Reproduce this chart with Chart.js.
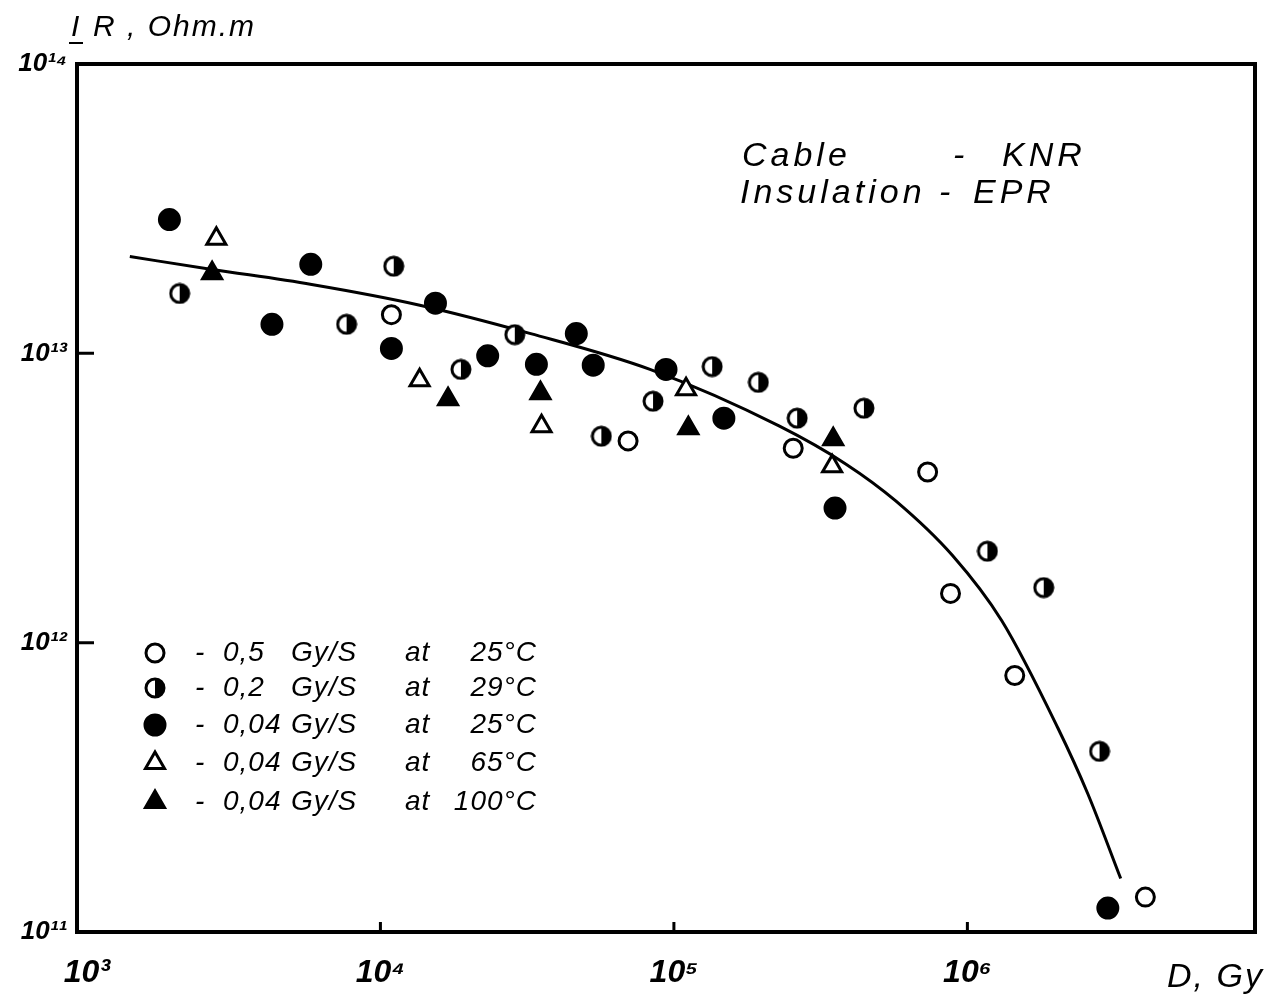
<!DOCTYPE html>
<html>
<head>
<meta charset="utf-8">
<script src="https://cdn.jsdelivr.net/npm/chart.js@4.4.1/dist/chart.umd.min.js"></script>
<style>
  html, body { margin: 0; padding: 0; background: #fff; }
  #wrap { width: 1269px; height: 1006px; }
</style>
</head>
<body>
<div id="wrap"><canvas id="irChart" width="1269" height="1006"></canvas></div>
<script>
// Dose D (Gy) and insulation resistance IR (Ohm.m)

// 0,5 Gy/S at 25°C  (open circle)
const openCircleDose = [1.09e4, 6.98e4, 2.55e5, 7.32e5, 8.76e5, 1.45e6, 4.04e6];
const openCircleIR   = [1.36e13, 4.98e12, 4.7e12, 3.89e12, 1.48e12, 7.7e11, 1.32e11];

// 0,2 Gy/S at 29°C  (half filled circle)
const halfCircleDose = [2.07e3, 1.11e4, 7.67e3, 1.88e4, 2.87e4, 1.35e5, 1.94e5, 8.49e4, 5.66e4, 2.63e5, 4.44e5, 1.17e6, 1.82e6, 2.82e6];
const halfCircleIR   = [1.61e13, 2.0e13, 1.26e13, 8.8e12, 1.16e13, 9.0e12, 7.94e12, 6.83e12, 5.17e12, 5.97e12, 6.46e12, 2.07e12, 1.55e12, 4.21e11];

// 0,04 Gy/S at 25°C  (filled circle)
const fullCircleDose = [1.91e3, 5.79e3, 1.54e4, 4.27e3, 1.09e4, 2.32e4, 4.65e4, 3.40e4, 5.31e4, 9.4e4, 1.48e5, 3.54e5, 3.01e6];
const fullCircleIR   = [2.9e13, 2.03e13, 1.49e13, 1.26e13, 1.04e13, 9.8e12, 1.17e13, 9.16e12, 9.1e12, 8.8e12, 5.97e12, 2.92e12, 1.21e11];

// 0,04 Gy/S at 65°C  (open triangle)
const openTriDose = [2.76e3, 1.36e4, 3.54e4, 1.10e5, 3.46e5];
const openTriIR   = [2.49e13, 8.07e12, 5.6e12, 7.52e12, 4.07e12];

// 0,04 Gy/S at 100°C  (filled triangle)
const fullTriDose = [2.67e3, 1.70e4, 3.51e4, 1.12e5, 3.49e5];
const fullTriIR   = [1.89e13, 6.94e12, 7.28e12, 5.51e12, 5.05e12];

// hand drawn trend curve
const curveDose = [1.40e3, 2.67e3, 5.83e3, 1.35e4, 3.25e4, 8.29e4, 2.29e5, 3.86e5, 5.70e5, 8.90e5, 1.31e6, 2.03e6, 2.57e6, 3.33e6];
const curveIR   = [2.16e13, 1.95e13, 1.73e13, 1.47e13, 1.17e13, 8.8e12, 5.6e12, 4.14e12, 3.09e12, 2.0e12, 1.19e12, 5.09e11, 3.01e11, 1.53e11];

const xTickValues = [1e3, 1e4, 1e5, 1e6];
const xTickLabels = ['10³', '10⁴', '10⁵', '10⁶'];
const yTickValues = [1e11, 1e12, 1e13, 1e14];
const yTickLabels = ['10¹¹', '10¹²', '10¹³', '10¹⁴'];

const legendRate = ['0,5', '0,2', '0,04', '0,04', '0,04'];
const legendTemp = ['25°C', '29°C', '25°C', '65°C', '100°C'];

const pts = (xs, ys) => xs.map((x, i) => ({ x: x, y: ys[i] }));

// circle with the right half blacked out
function halfCircle(size) {
    const c = document.createElement('canvas');
    c.width = size; c.height = size;
    const g = c.getContext('2d');
    const m = size / 2, r = size / 2 - 2;
    g.fillStyle = '#fff';
    g.beginPath(); g.arc(m, m, r, 0, Math.PI * 2); g.fill();
    g.fillStyle = '#000';
    g.beginPath(); g.arc(m, m, r, -Math.PI / 2, Math.PI / 2); g.closePath(); g.fill();
    g.lineWidth = 3; g.strokeStyle = '#000';
    g.beginPath(); g.arc(m, m, r, 0, Math.PI * 2); g.stroke();
    return c;
}

const HAND = '"Liberation Sans", "DejaVu Sans", sans-serif';

function marker(label, data, style, radius, fill) {
    return {
        type: 'scatter',
        label: label,
        data: data,
        pointStyle: style,
        pointRadius: radius,
        pointHoverRadius: radius,
        pointBackgroundColor: fill,
        pointBorderColor: '#000',
        pointBorderWidth: 3,
        backgroundColor: fill,
        borderColor: '#000',
        order: 1
    };
}

// frame + inward tick marks
const framePlugin = {
    id: 'frame',
    beforeDatasetsDraw(chart) {
        const { ctx, chartArea: a, scales } = chart;
        ctx.save();
        ctx.strokeStyle = '#000';
        ctx.lineWidth = 4;
        ctx.strokeRect(a.left, a.top, a.right - a.left, a.bottom - a.top);
        ctx.lineWidth = 3;
        ctx.beginPath();
        scales.x.ticks.forEach(t => {
            const px = scales.x.getPixelForValue(t.value);
            if (px - a.left < 20) return;
            ctx.moveTo(px, a.bottom);
            ctx.lineTo(px, a.bottom - 10);
        });
        scales.y.ticks.forEach(t => {
            const py = scales.y.getPixelForValue(t.value);
            if (py - a.top < 20 || a.bottom - py < 20) return;
            ctx.moveTo(a.left, py);
            ctx.lineTo(a.left + 17, py);
        });
        ctx.stroke();
        ctx.restore();
    }
};

// axis titles, note and the legend block
const textPlugin = {
    id: 'texts',
    afterDraw(chart) {
        const { ctx, chartArea: a } = chart;
        ctx.save();
        ctx.fillStyle = '#000';
        ctx.strokeStyle = '#000';
        ctx.textBaseline = 'middle';
        ctx.textAlign = 'left';

        // y axis title
        ctx.font = 'italic 30px ' + HAND;
        ctx.letterSpacing = '2px';
        ctx.fillText('I', a.left - 6, a.top - 36);
        ctx.fillText('R , Ohm.m', a.left + 16, a.top - 36);
        ctx.lineWidth = 2;
        ctx.beginPath();
        ctx.moveTo(a.left - 8, a.top - 21);
        ctx.lineTo(a.left + 6, a.top - 21);
        ctx.stroke();

        // x axis title
        ctx.font = 'italic 34px ' + HAND;
        ctx.fillText('D, Gy', a.right - 88, a.bottom + 46);

        // cable note
        ctx.font = 'italic 34px ' + HAND;
        ctx.letterSpacing = '4px';
        ctx.fillText('Cable', a.left + 665, a.top + 93);
        ctx.fillText('-', a.left + 876, a.top + 93);
        ctx.fillText('KNR', a.left + 925, a.top + 93);
        ctx.fillText('Insulation', a.left + 663, a.top + 130);
        ctx.fillText('-', a.left + 862, a.top + 130);
        ctx.fillText('EPR', a.left + 896, a.top + 130);

        // legend
        const ds = chart.data.datasets.filter(d => d.type === 'scatter');
        const rowY = [a.top + 589, a.top + 624, a.top + 661, a.top + 699, a.top + 738];
        const symX = a.left + 78;
        ds.forEach((d, i) => {
            const y = rowY[i];
            ctx.save();
            ctx.fillStyle = d.pointBackgroundColor;
            ctx.strokeStyle = d.pointBorderColor;
            ctx.lineWidth = d.pointBorderWidth;
            Chart.helpers.drawPoint(ctx, {
                pointStyle: d.pointStyle,
                radius: d.pointRadius,
                rotation: 0,
                borderWidth: d.pointBorderWidth
            }, symX, y);
            ctx.restore();
            ctx.font = 'italic 28px ' + HAND;
            ctx.letterSpacing = '1px';
            ctx.textAlign = 'left';
            ctx.fillText('-', a.left + 118, y);
            ctx.fillText(legendRate[i], a.left + 146, y);
            ctx.fillText('Gy/S', a.left + 214, y);
            ctx.fillText('at', a.left + 328, y);
            ctx.textAlign = 'right';
            ctx.fillText(legendTemp[i], a.left + 460, y);
        });
        ctx.restore();
    }
};

const ctx = document.getElementById('irChart').getContext('2d');
const irChart = new Chart(ctx, {
    data: {
        datasets: [
            marker('0,5 Gy/S at 25°C', pts(openCircleDose, openCircleIR), 'circle', 9, '#fff'),
            marker('0,2 Gy/S at 29°C', pts(halfCircleDose, halfCircleIR), halfCircle(22), 10, '#fff'),
            marker('0,04 Gy/S at 25°C', pts(fullCircleDose, fullCircleIR), 'circle', 10, '#000'),
            marker('0,04 Gy/S at 65°C', pts(openTriDose, openTriIR), 'triangle', 11, '#fff'),
            marker('0,04 Gy/S at 100°C', pts(fullTriDose, fullTriIR), 'triangle', 11, '#000'),
            {
                type: 'line',
                label: 'trend',
                data: pts(curveDose, curveIR),
                borderColor: '#000',
                borderWidth: 3,
                pointRadius: 0,
                fill: false,
                cubicInterpolationMode: 'monotone',
                order: 10
            }
        ]
    },
    options: {
        responsive: false,
        animation: false,
        layout: { padding: { top: 64, right: 8, left: 0, bottom: 0 } },
        plugins: {
            legend: { display: false },
            tooltip: { enabled: false }
        },
        scales: {
            x: {
                type: 'logarithmic',
                min: 925,
                max: 9.55e6,
                afterBuildTicks: axis => { axis.ticks = xTickValues.map(v => ({ value: v })); },
                afterFit: axis => { axis.height = 74; },
                grid: { display: false, drawTicks: false },
                border: { display: false },
                ticks: {
                    autoSkip: false,
                    maxRotation: 0,
                    padding: 22,
                    color: '#000',
                    font: { family: HAND, size: 32, style: 'italic', weight: 'bold' },
                    callback: (v, i) => xTickLabels[i]
                }
            },
            y: {
                type: 'logarithmic',
                min: 1e11,
                max: 1e14,
                afterBuildTicks: axis => { axis.ticks = yTickValues.map(v => ({ value: v })); },
                afterFit: axis => { axis.width = 77; },
                grid: { display: false, drawTicks: false },
                border: { display: false },
                ticks: {
                    autoSkip: false,
                    padding: 10,
                    color: '#000',
                    font: { family: HAND, size: 26, style: 'italic', weight: 'bold' },
                    callback: (v, i) => yTickLabels[i]
                }
            }
        }
    },
    plugins: [framePlugin, textPlugin]
});
</script>
</body>
</html>
